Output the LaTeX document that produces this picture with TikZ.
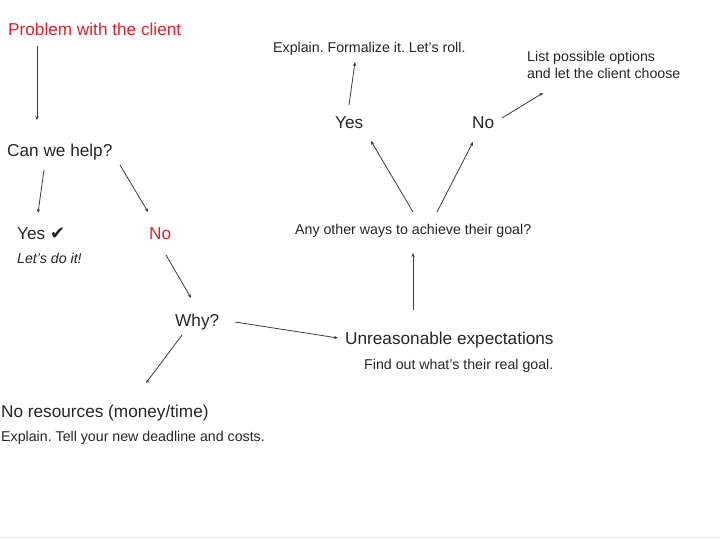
\documentclass[tikz,border=0pt]{standalone}
\usepackage{fontspec}
\setmainfont{Liberation Sans}
\newfontfamily\symfont{DejaVu Sans}
\usepackage{tikz}
\usetikzlibrary{arrows.meta,calc}
\definecolor{flowred}{HTML}{E0202E}
\definecolor{flowtext}{HTML}{262626}
\definecolor{flowline}{HTML}{3C3C3C}

\tikzset{
  big/.style={anchor=west,inner sep=0pt,text=flowtext,font=\fontsize{17.2}{20}\selectfont},
  small/.style={anchor=west,inner sep=0pt,text=flowtext,font=\fontsize{14.2}{17}\selectfont},
  arr/.style={-{Stealth[length=4pt,width=3.2pt]},line width=0.8pt,flowline},
}
\frenchspacing

\begin{document}
\begin{tikzpicture}[x=1pt,y=-1pt]
  \useasboundingbox[fill=white] (0,0) rectangle (720,538);
  \draw[black!8,line width=1pt] (0,537) -- (720,537);

  % left branch
  \node[big,text=flowred] (prob) at (8,29) {Problem with the client};
  \node[big] (help) at (7,152) {Can we help?};
  \node[big] (yesa) at (17,234) {Yes {\symfont\fontsize{18}{20}\selectfont ✔}};
  \node[small,font=\fontsize{14.2}{17}\selectfont\itshape] (doit) at (17,258) {Let’s do it!};
  \node[big,text=flowred] (noa) at (149,234) {No};
  \node[big] (why) at (175,322) {Why?};
  \node[big] (nores) at (1,413) {No resources (money/time)};
  \node[small] (costs) at (1,438) {Explain. Tell your new deadline and costs.};

  % right branch
  \node[big] (unreas) at (345,340) {Unreasonable expectations};
  \node[small] (realgoal) at (364,366) {Find out what’s their real goal.};
  \node[small] (other) at (295,231) {Any other ways to achieve their goal?};
  \node[big] (yesb) at (335,123) {Yes};
  \node[big] (nob) at (472,123) {No};
  \node[small] (roll) at (273,49) {Explain. Formalize it. Let’s roll.};
  \node[small,align=left] (options) at (527,65) {List possible options\\and let the client choose};

  \draw[arr] ($(prob.west)+(29,17)$) -- ($(help.west)+(30,-32)$);
  \draw[arr] ($(help.west)+(37,18)$) -- ($(yesa.west)+(21,-21)$);
  \draw[arr] ($(help.west)+(113,13)$) -- ($(noa.west)+(-1,-22)$);
  \draw[arr] ($(noa.west)+(17,21)$) -- ($(why.west)+(16,-24)$);
  \draw[arr] ($(why.west)+(7,13)$) -- ($(nores.west)+(145,-30)$);
  \draw[arr] ($(why.west)+(60,0)$) -- ($(unreas.west)+(-7,-2)$);
  \draw[arr] ($(unreas.west)+(68,-30)$) -- ($(other.west)+(118,22)$);
  \draw[arr] ($(other.west)+(118,-19)$) -- ($(yesb.west)+(36,18)$);
  \draw[arr] ($(other.west)+(142,-19)$) -- ($(nob.west)+(1,19)$);
  \draw[arr] ($(yesb.west)+(14,-18)$) -- ($(roll.west)+(82,13)$);
  \draw[arr] ($(nob.west)+(30,-5)$) -- ($(options.west)+(16,28)$);
\end{tikzpicture}
\end{document}
